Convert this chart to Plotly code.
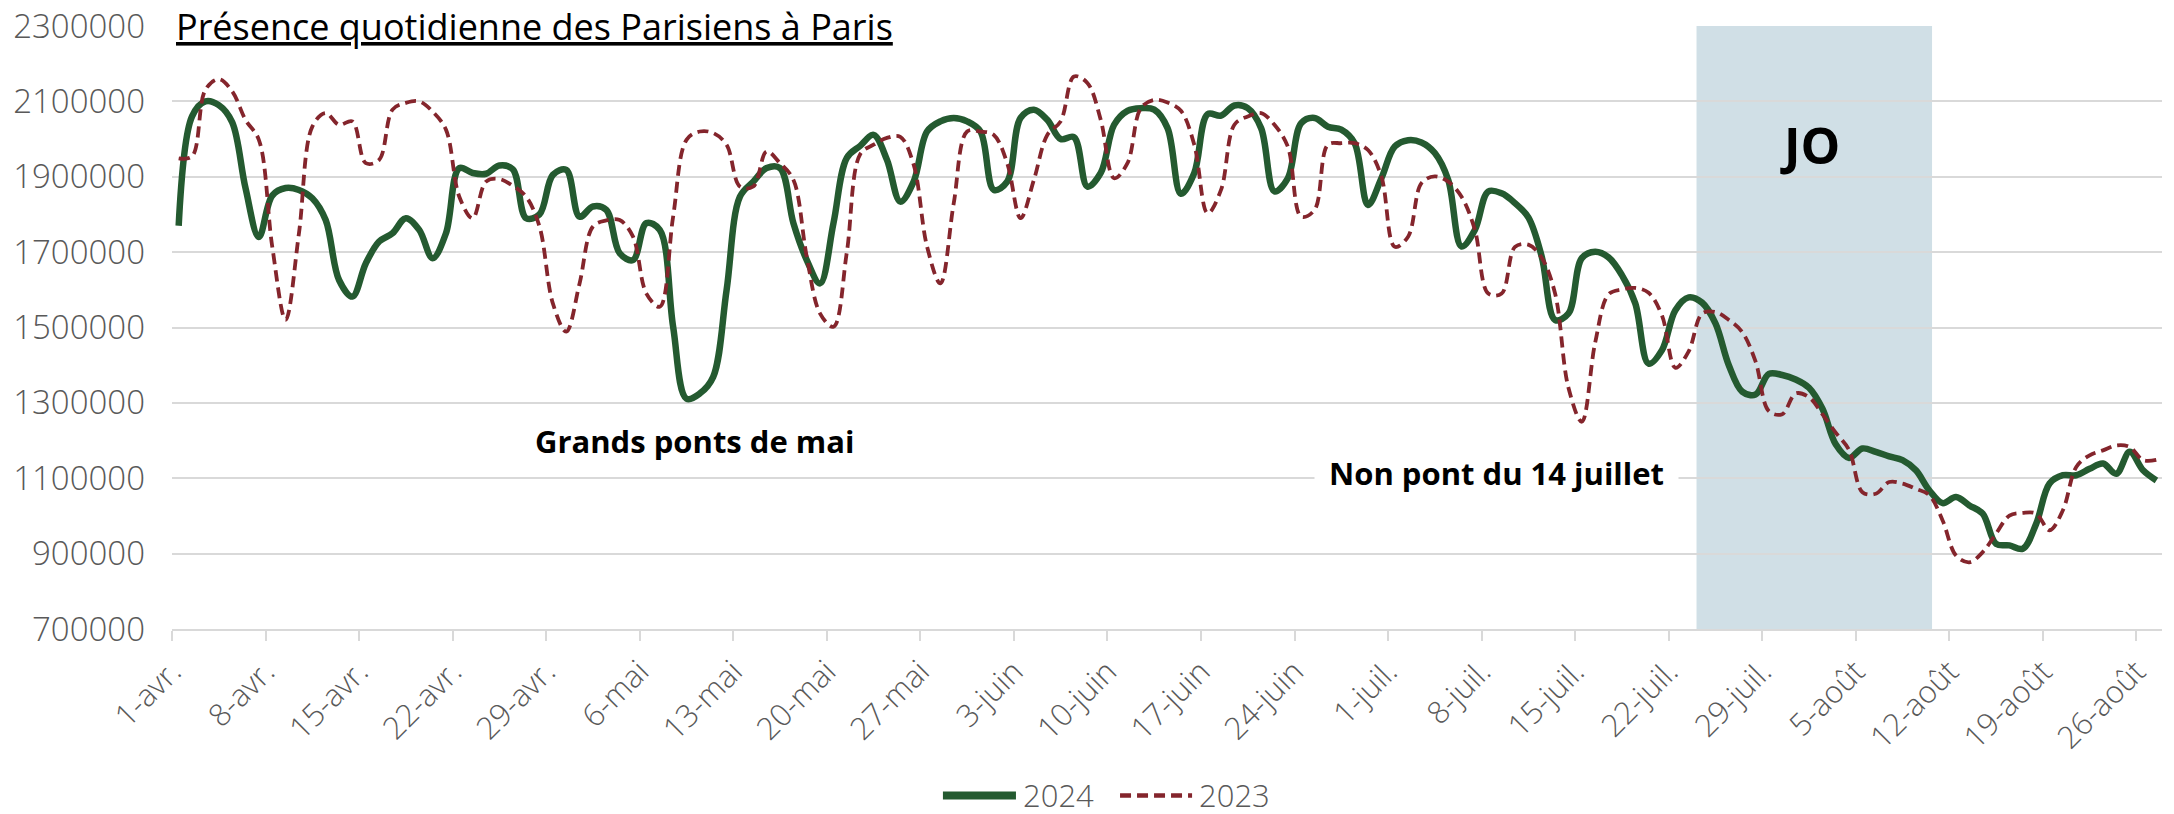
import pandas as pd
import plotly.graph_objects as go

# daily presence, 1 April -> 27 August
start_date = "2024-04-01"

presence_2024 = [
    1770000, 2060000, 2100000, 2090000, 2045000, 1870000, 1740000, 1850000, 1870000, 1865000,
    1843000, 1785000, 1626000, 1582000, 1670000, 1728000, 1750000, 1790000, 1759000, 1684000,
    1750000, 1923000, 1910000, 1908000, 1930000, 1920000, 1790000, 1800000, 1905000, 1918000,
    1794000, 1821000, 1812000, 1697000, 1679000, 1777000, 1759000, 1502000, 1311000, 1325000,
    1369000, 1599000, 1847000, 1887000, 1923000, 1923000, 1777000, 1679000, 1617000, 1777000,
    1950000, 1982000, 2011000, 1945000, 1834000, 1887000, 2020000, 2047000, 2056000, 2047000,
    2020000, 1865000, 1887000, 2056000, 2078000, 2051000, 2000000, 2005000, 1874000, 1910000,
    2038000, 2075000, 2082000, 2078000, 2029000, 1855000, 1910000, 2066000, 2062000, 2089000,
    2082000, 2029000, 1861000, 1896000, 2042000, 2056000, 2033000, 2025000, 1989000, 1825000,
    1896000, 1980000, 1997000, 1991000, 1963000, 1892000, 1715000, 1759000, 1861000, 1856000,
    1830000, 1792000, 1688000, 1520000, 1537000, 1684000, 1701000, 1686000, 1639000, 1564000,
    1404000, 1440000, 1546000, 1580000, 1566000, 1511000, 1400000, 1330000, 1322000, 1377000,
    1374000, 1362000, 1340000, 1285000, 1190000, 1154000, 1179000, 1170000, 1158000, 1148000,
    1121000, 1068000, 1034000, 1050000, 1028000, 1006000, 926000, 922000, 913000, 979000,
    1086000, 1108000, 1108000, 1125000, 1139000, 1112000, 1170000, 1121000, 1094000,
]

presence_2023 = [
    1949000, 1954000, 2131000, 2159000, 2127000, 2051000, 1998000, 1715000, 1520000, 1750000,
    2033000, 2069000, 2038000, 2047000, 1936000, 1945000, 2078000, 2096000, 2100000, 2073000,
    2025000, 1847000, 1790000, 1887000, 1894000, 1876000, 1847000, 1768000, 1564000, 1489000,
    1617000, 1768000, 1784000, 1785000, 1741000, 1590000, 1555000, 1794000, 1998000, 2020000,
    2016000, 1985000, 1874000, 1874000, 1967000, 1936000, 1892000, 1688000, 1537000, 1502000,
    1700000, 1960000, 1985000, 2003000, 2006000, 1932000, 1715000, 1617000, 1830000, 2020000,
    2020000, 2011000, 1936000, 1790000, 1892000, 2011000, 2047000, 2166000, 2149000, 2051000,
    1896000, 1936000, 2082000, 2104000, 2097000, 2075000, 1985000, 1803000, 1865000, 2038000,
    2060000, 2069000, 2038000, 1980000, 1794000, 1812000, 1985000, 1989000, 1989000, 1971000,
    1901000, 1714000, 1741000, 1883000, 1901000, 1887000, 1847000, 1759000, 1590000, 1590000,
    1714000, 1720000, 1685000, 1590000, 1340000, 1250000, 1460000, 1588000, 1601000, 1605000,
    1592000, 1532000, 1393000, 1437000, 1537000, 1541000, 1520000, 1488000, 1410000, 1278000,
    1270000, 1325000, 1315000, 1270000, 1221000, 1175000, 1063000, 1059000, 1090000, 1086000,
    1072000, 1055000, 988000, 895000, 877000, 904000, 953000, 1001000, 1008000, 1006000,
    962000, 1015000, 1130000, 1161000, 1174000, 1187000, 1183000, 1148000, 1149000,
]

tick_labels = [
    "1-avr.", "8-avr.", "15-avr.", "22-avr.", "29-avr.", "6-mai", "13-mai", "20-mai",
    "27-mai", "3-juin", "10-juin", "17-juin", "24-juin", "1-juil.", "8-juil.", "15-juil.",
    "22-juil.", "29-juil.", "5-août", "12-août", "19-août", "26-août",
]
y_ticks = [700000, 900000, 1100000, 1300000, 1500000, 1700000, 1900000, 2100000, 2300000]

# olympic period band
jo_start = "2024-07-24 02:00"
jo_end = "2024-08-10 17:00"

GREEN = "#245a30"
RED = "#84252c"
GREY = "#595959"
FONT = "Open Sans"

# points sit in the middle of each day (Excel date axis)
dates = pd.date_range(start_date + " 12:00", periods=len(presence_2024), freq="D")
tick_dates = pd.date_range(start_date, periods=len(tick_labels), freq="7D")

fig = go.Figure()

fig.add_trace(go.Scatter(
    x=dates, y=presence_2024, name="2024", mode="lines",
    line=dict(color=GREEN, width=6.5, shape="spline", smoothing=1),
))
fig.add_trace(go.Scatter(
    x=dates, y=presence_2023, name="2023", mode="lines",
    line=dict(color=RED, width=3.8, shape="spline", smoothing=1, dash="11px,6px"),
))

fig.add_shape(
    type="rect", xref="x", yref="paper", x0=jo_start, x1=jo_end, y0=0, y1=1,
    fillcolor="#d0dfe6", line_width=0, layer="below",
)

fig.add_annotation(x="2024-08-01 14:00", y=1985000, text="<b>JO</b>", showarrow=False,
                   font=dict(family=FONT, size=50, color="black"))
fig.add_annotation(x="2024-05-10 02:00", y=1200000, text="<b>Grands ponts de mai</b>",
                   showarrow=False, font=dict(family=FONT, size=31, color="black"))
fig.add_annotation(x="2024-07-09 03:00", y=1114000, text="<b>Non pont du 14 juillet</b>",
                   showarrow=False, bgcolor="white", borderpad=14,
                   font=dict(family=FONT, size=31, color="black"))

# title sits on the top gridline, boxed in white
fig.add_annotation(xref="paper", yref="paper", x=0.0, y=1.0, xanchor="left", yanchor="middle",
                   text="<u>Présence quotidienne des Parisiens à Paris</u>", showarrow=False,
                   bgcolor="white", borderpad=3,
                   font=dict(family=FONT, size=36, color="black"))

# legend drawn by hand to get the long Excel-style line samples
legend_y = -0.276
fig.add_shape(type="line", xref="paper", yref="paper", x0=0.3874, x1=0.4241,
              y0=legend_y, y1=legend_y, line=dict(color=GREEN, width=8))
fig.add_annotation(xref="paper", yref="paper", x=0.4266, y=legend_y, xanchor="left",
                   yanchor="middle", text="2024", showarrow=False,
                   font=dict(family=FONT, size=31, color=GREY, weight=300))
fig.add_shape(type="line", xref="paper", yref="paper", x0=0.4764, x1=0.5126,
              y0=legend_y, y1=legend_y, line=dict(color=RED, width=4.5, dash="11px,6px"))
fig.add_annotation(xref="paper", yref="paper", x=0.5151, y=legend_y, xanchor="left",
                   yanchor="middle", text="2023", showarrow=False,
                   font=dict(family=FONT, size=31, color=GREY, weight=300))

# the page body adds an 8px offset, so the figure is 8px smaller on each side
fig.update_layout(
    width=2166, height=806,
    margin=dict(l=164, r=12, t=18, b=185),
    plot_bgcolor="rgba(0,0,0,0)", paper_bgcolor="white",
    font=dict(family=FONT, color=GREY, size=30),
    showlegend=False,
)

fig.update_xaxes(
    type="date", range=[start_date, "2024-08-27 22:00"], automargin=False,
    tickvals=tick_dates, ticktext=tick_labels, tickangle=-45,
    showgrid=False, showline=True, linecolor="#d9d9d9", linewidth=2,
    ticks="outside", ticklen=10, tickwidth=2, tickcolor="#d9d9d9",
    tickfont=dict(family=FONT, size=31, color=GREY, weight=300),
)
fig.update_yaxes(
    range=[700000, 2300000], tickvals=y_ticks, tickformat="d", automargin=False,
    showgrid=True, gridcolor="#d9d9d9", gridwidth=2, zeroline=False, showline=False,
    ticklabelstandoff=26, ticklabeloverflow="allow",
    tickfont=dict(family=FONT, size=33, color=GREY, weight=300),
)

fig.write_html("out.html")
